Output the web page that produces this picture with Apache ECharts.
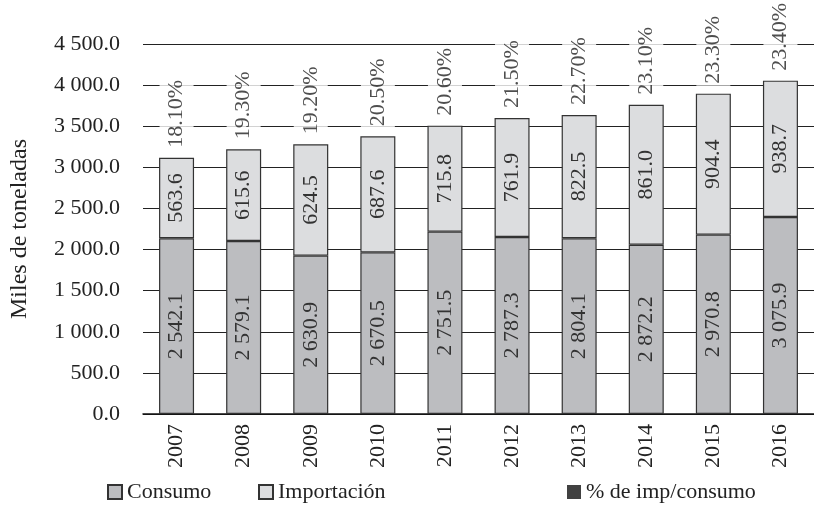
<!DOCTYPE html>
<html>
<head>
<meta charset="utf-8">
<script src="https://cdn.jsdelivr.net/npm/echarts@6/dist/echarts.min.js"></script>
<style>html,body{margin:0;padding:0;background:#fff}#c{width:814px;height:523px}</style>
</head>
<body>
<div id="c"></div>
<script>
// Categories
var years = ['2007','2008','2009','2010','2011','2012','2013','2014','2015','2016'];
// Printed values (labels)
var consumo = [2542.1, 2579.1, 2630.9, 2670.5, 2751.5, 2787.3, 2804.1, 2872.2, 2970.8, 3075.9];
var importacion = [563.6, 615.6, 624.5, 687.6, 715.8, 761.9, 822.5, 861.0, 904.4, 938.7];
var porcentaje = [18.1, 19.3, 19.2, 20.5, 20.6, 21.5, 22.7, 23.1, 23.3, 23.4];
var alturaConsumo = [2137, 2104, 1926, 1966, 2218, 2153, 2137, 2059, 2181, 2396];
var alturaImportacion = [980, 1115, 1354, 1411, 1289, 1447, 1500, 1703, 1715, 1658];
// Axis ticks
var yMin = 0, yMax = 4500, yStep = 500;

function fmt(v) {
  var s = v.toFixed(1);
  var parts = s.split('.');
  var ip = parts[0].replace(/\B(?=(\d{3})+(?!\d))/g, ' ');
  return ip + '.' + parts[1];
}

var FONT = '"Liberation Serif", "DejaVu Serif", serif';
var totales = alturaConsumo.map(function (v, i) { return [years[i], v + alturaImportacion[i]]; });

var chart = echarts.init(document.getElementById('c'), null, {renderer: 'canvas'});
var legendText = {fontFamily: FONT, fontSize: 22, color: '#222'};
chart.setOption({
  animation: false,
  textStyle: {fontFamily: FONT},
  grid: {left: 141.5, top: 44, width: 680, height: 370, containLabel: false},
  legend: [
    {data: ['Consumo'], left: 102, top: 476, itemWidth: 14, itemHeight: 14, itemGap: 4, icon: 'rect', textStyle: legendText},
    {data: ['Importación'], left: 253, top: 476, itemWidth: 14, itemHeight: 14, icon: 'rect', textStyle: legendText},
    {data: ['% de imp/consumo'], left: 562, top: 476, itemWidth: 14, itemHeight: 14, icon: 'rect', textStyle: legendText}
  ],
  xAxis: {
    type: 'category',
    data: years,
    axisLine: {show: true, lineStyle: {color: '#111', width: 1.5}},
    axisTick: {show: false},
    axisLabel: {rotate: 90, margin: 10, fontFamily: FONT, fontSize: 22, color: '#222'}
  },
  yAxis: {
    type: 'value',
    min: yMin, max: yMax, interval: yStep,
    name: 'Miles de toneladas',
    nameLocation: 'middle',
    nameGap: 111,
    nameTextStyle: {fontFamily: FONT, fontSize: 24, color: '#222'},
    axisLine: {show: false},
    axisTick: {show: false},
    axisLabel: {margin: 23, fontFamily: FONT, fontSize: 22, color: '#222', formatter: function (v) { return fmt(v); }},
    splitLine: {show: true, lineStyle: {color: '#222', width: 1.2}}
  },
  series: [
    {
      name: 'Consumo', type: 'bar', stack: 't', barWidth: 35,
      data: alturaConsumo,
      itemStyle: {color: '#bcbdc0', borderColor: '#333', borderWidth: 1.2},
      label: {show: true, position: 'inside', rotate: 90, fontFamily: FONT, fontSize: 22, color: '#333',
        formatter: function (p) { return fmt(consumo[p.dataIndex]); }}
    },
    {
      name: 'Importación', type: 'bar', stack: 't', barWidth: 35,
      data: alturaImportacion,
      itemStyle: {color: '#dcdddf', borderColor: '#333', borderWidth: 1.2},
      label: {show: true, position: 'inside', rotate: 90, fontFamily: FONT, fontSize: 22, color: '#333',
        formatter: function (p) { return fmt(importacion[p.dataIndex]); }}
    },
    {
      name: '% de imp/consumo', type: 'scatter',
      data: totales, symbolSize: 0,
      itemStyle: {color: '#111'},
      label: {show: true, position: 'top', distance: 8, rotate: 90, align: 'left', verticalAlign: 'middle',
        fontFamily: FONT, fontSize: 22, color: '#222', backgroundColor: '#fff', padding: [6, 2, 6, 2],
        formatter: function (p) { return porcentaje[p.dataIndex].toFixed(2) + '%'; }}
    }
  ]
});
</script>
</body>
</html>
